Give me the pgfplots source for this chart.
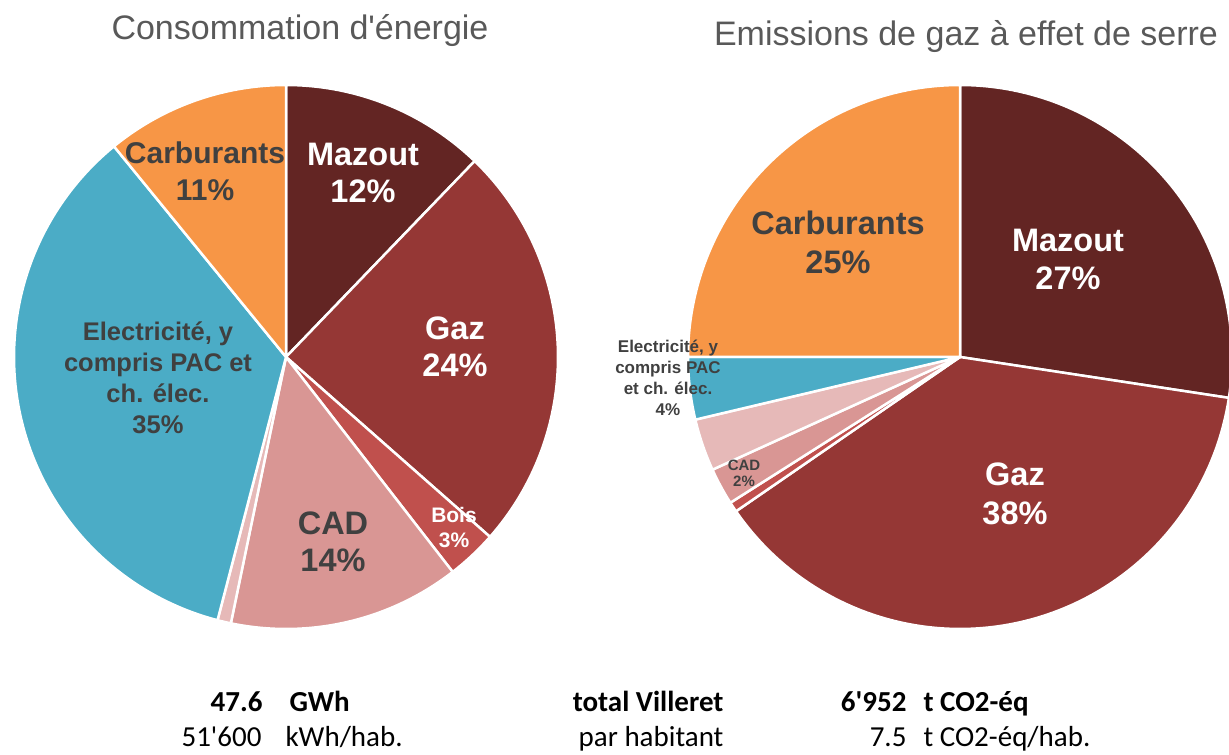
\documentclass[border=0pt]{standalone}
\usepackage{pgfplots}
\pgfplotsset{compat=1.18}
\usepackage{fontspec}
\setmainfont{Liberation Sans}
\newfontfamily\arialplain{Liberation Sans}
\newfontfamily\calibri{Carlito}
\definecolor{cMaz}{HTML}{632523}
\definecolor{cGaz}{HTML}{953735}
\definecolor{cBois}{HTML}{C0504D}
\definecolor{cCAD}{HTML}{D99694}
\definecolor{cAut}{HTML}{E6B9B8}
\definecolor{cElec}{HTML}{4BACC6}
\definecolor{cCarb}{HTML}{F79646}
\definecolor{lab}{HTML}{404040}
\definecolor{tit}{HTML}{595959}
% slice: cx, cy, r, cumulative start (%), share (%), colour
\newcommand{\slice}[6]{%
  \addplot[fill=#6, draw=white, line width=2.5pt, line join=round,
    domain={90-3.6*(#4+#5)}:{90-3.6*(#4)}, samples=90, variable=\t]
    ({#1+#3*cos(\t)},{#2+#3*sin(\t)}) -- (axis cs:#1,#2) -- cycle;}
\newcommand{\fs}[2]{\fontsize{#1}{#2}\selectfont}
\begin{document}
\begin{tikzpicture}[x=1pt,y=1pt]
\useasboundingbox (0,0) rectangle (1229,755);
\begin{axis}[at={(0,0)}, anchor=south west, width=1229pt, height=755pt,
  scale only axis, xmin=0, xmax=1229, ymin=0, ymax=755, hide axis, clip=true]
% Consommation d'energie (%): Mazout 12.2, Gaz 24.3, Bois 3.0, CAD 13.75, Autre 0.8, Elec 35.05, Carburants 10.9
\slice{286}{398}{272}{0}{12.2}{cMaz}
\slice{286}{398}{272}{12.2}{24.3}{cGaz}
\slice{286}{398}{272}{36.5}{3.0}{cBois}
\slice{286}{398}{272}{39.5}{13.75}{cCAD}
\slice{286}{398}{272}{53.25}{0.8}{cAut}
\slice{286}{398}{272}{54.05}{35.05}{cElec}
\slice{286}{398}{272}{89.1}{10.9}{cCarb}
% Emissions (%): Mazout 27.4, Gaz 38.0, Bois 0.6, CAD 2.2, Autre 3.1, Elec 3.7, Carburants 25.0
\slice{960}{398}{272}{0}{27.4}{cMaz}
\slice{960}{398}{272}{27.4}{38.0}{cGaz}
\slice{960}{398}{272}{65.4}{0.6}{cBois}
\slice{960}{398}{272}{66.0}{2.2}{cCAD}
\slice{960}{398}{272}{68.2}{3.1}{cAut}
\slice{960}{398}{272}{71.3}{3.7}{cElec}
\slice{960}{398}{272}{75.0}{25.0}{cCarb}
% labels left
\node[align=center, text=white, font=\bfseries\fs{32.5}{37}] at (axis cs:363,582) {Mazout\\12\%};
\node[align=center, text=white, font=\bfseries\fs{32.5}{37}] at (axis cs:455,408) {Gaz\\24\%};
\node[align=center, text=white, font=\bfseries\fs{21}{25}] at (axis cs:454,227) {Bois\\3\%};
\node[align=center, text=lab, font=\bfseries\fs{32.5}{37}] at (axis cs:333,213) {CAD\\14\%};
\node[align=center, text=lab, font=\bfseries\fs{30}{37}] at (axis cs:205,584) {Carburants\\11\%};
\node[align=center, text=lab, font=\bfseries\fs{25.5}{31}] at (axis cs:158,377) {Electricité, y\\compris PAC et\\ch. élec.\\35\%};
% labels right
\node[align=center, text=white, font=\bfseries\fs{32.5}{38}] at (axis cs:1068,496) {Mazout\\27\%};
\node[align=center, text=white, font=\bfseries\fs{32.5}{39}] at (axis cs:1015,261) {Gaz\\38\%};
\node[align=center, text=lab, font=\bfseries\fs{32.5}{39}] at (axis cs:838,513) {Carburants\\25\%};
\node[align=center, text=lab, font=\bfseries\fs{17}{21}] at (axis cs:668,377) {Electricité, y\\compris PAC\\et ch. élec.\\4\%};
\node[align=center, text=lab, font=\bfseries\fs{15}{16}] at (axis cs:744,282) {CAD\\2\%};
% titles
\node[text=tit, font=\arialplain\fs{34}{38}] at (axis cs:300,724) {Consommation d'énergie};
\node[text=tit, font=\arialplain\fs{34}{38}] at (axis cs:966,718) {Emissions de gaz à effet de serre};
% bottom summary
\node[anchor=base east, font=\calibri\bfseries\fs{29}{34}] at (axis cs:266,43) {47.6};
\node[anchor=base west, font=\calibri\bfseries\fs{29}{34}] at (axis cs:286,43) {GWh};
\node[anchor=base east, font=\calibri\bfseries\fs{29}{34}] at (axis cs:727,43) {total Villeret};
\node[anchor=base east, font=\calibri\bfseries\fs{29}{34}] at (axis cs:910,43) {6'952};
\node[anchor=base west, font=\calibri\bfseries\fs{29}{34}] at (axis cs:920,43) {t CO2-éq};
\node[anchor=base east, font=\calibri\fs{29}{34}] at (axis cs:265,8) {51'600};
\node[anchor=base west, font=\calibri\fs{29}{34}] at (axis cs:282,8) {kWh/hab.};
\node[anchor=base east, font=\calibri\fs{29}{34}] at (axis cs:727,8) {par habitant};
\node[anchor=base east, font=\calibri\fs{29}{34}] at (axis cs:910,8) {7.5};
\node[anchor=base west, font=\calibri\fs{29}{34}] at (axis cs:920,8) {t CO2-éq/hab.};
\end{axis}
\end{tikzpicture}
\end{document}
